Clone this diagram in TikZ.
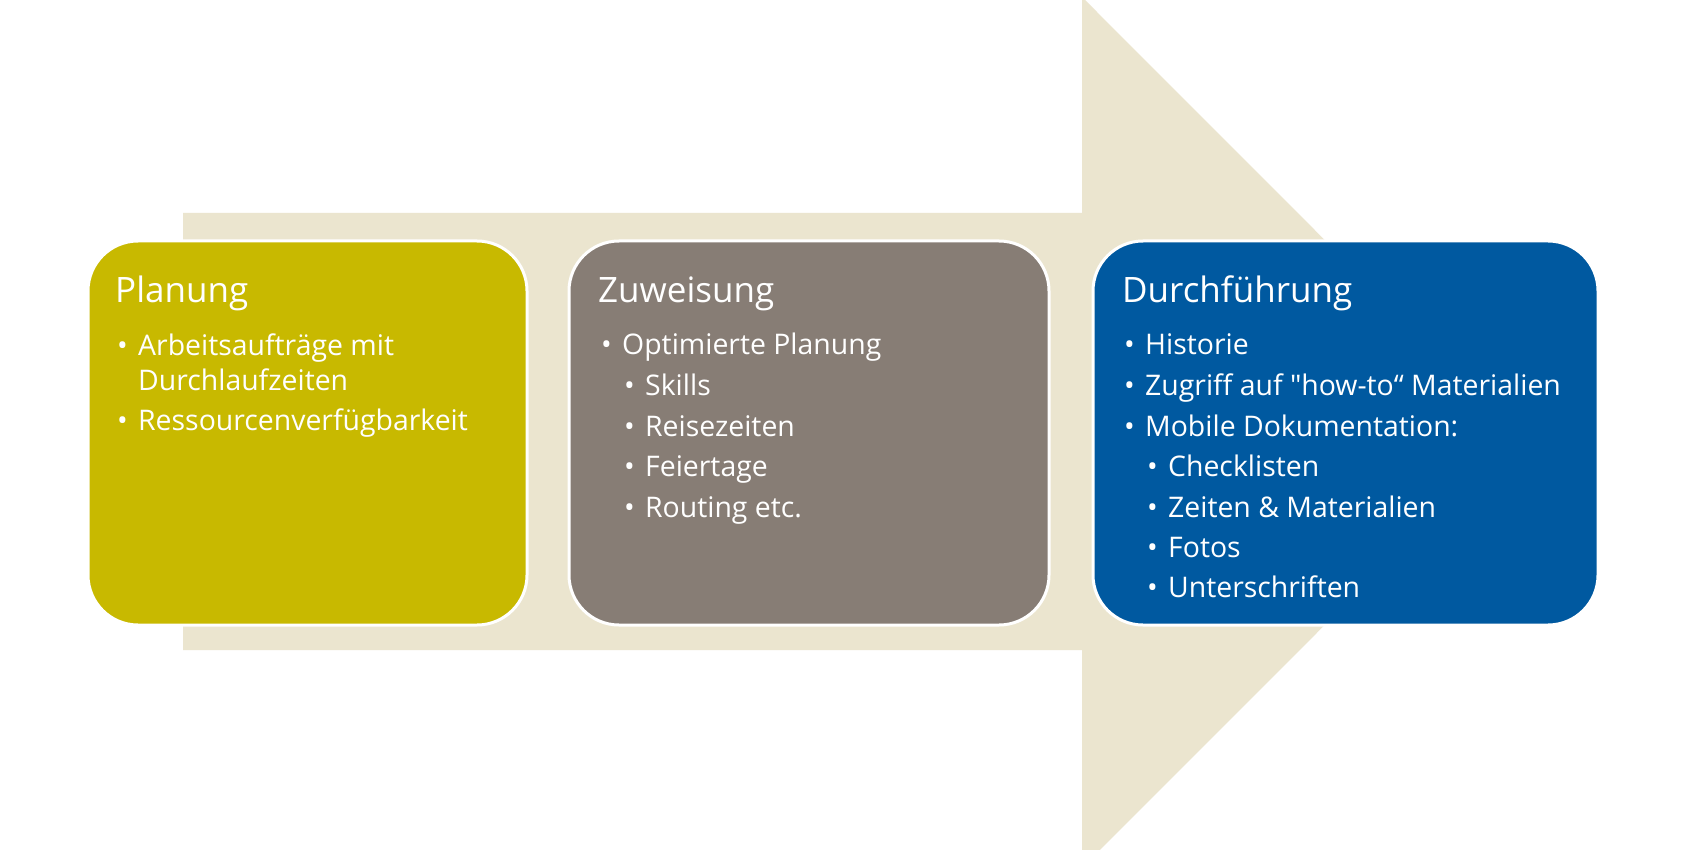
\documentclass[tikz,border=0pt]{standalone}
\usepackage{fontspec}
\setmainfont{Open Sans}
\usepackage{tikz}
\definecolor{planoliv}{RGB}{200,185,0}
\definecolor{zuwgrau}{RGB}{135,125,117}
\definecolor{durchblau}{RGB}{0,89,160}
\definecolor{pfeilbeige}{RGB}{235,229,207}
\newcommand\punkt{\makebox[21pt][l]{\textbullet}}

\begin{document}
\begin{tikzpicture}[x=1pt, y=-1pt,
		phase/.style={draw=white, line width=3pt, rounded corners=50pt, inner sep=0pt, minimum height=384pt},
		kopf/.style={anchor=base west, inner sep=0pt, text=white, font=\fontsize{35}{42}\selectfont},
		zeile/.style={anchor=base west, inner sep=0pt, text=white, font=\fontsize{28.4}{35}\selectfont}]
		%%%%% START %%%%%
		
		\useasboundingbox (0, 0) rectangle (1700, 850);
		\fill[white] (0, 0) rectangle (1700, 850);
		
		% grosser Pfeil
		\fill[pfeilbeige] (183, 213) -- (1082, 213) -- (1082, -3) -- (1517, 432.5) -- (1082, 868) -- (1082, 650) -- (183, 650) -- cycle;
		
		% Planung
		\node[phase, fill=planoliv, minimum width=439pt] (planung) at (307.5, 433) {};
		\node[kopf] (plankopf) at (115, 302) {Planung};
		\node[zeile] (plan1) at (117, 355) {\punkt Arbeitsaufträge mit};
		\node[zeile] (plan2) at (138, 390) {Durchlaufzeiten};
		\node[zeile] (plan3) at (117, 430) {\punkt Ressourcenverfügbarkeit};
		
		% Zuweisung
		\node[phase, fill=zuwgrau, minimum width=480pt] (zuweisung) at (809, 433) {};
		\node[kopf] (zuwkopf) at (598, 302) {Zuweisung};
		\node[zeile] (zuw1) at (601, 354) {\punkt Optimierte Planung};
		\node[zeile] (zuw2) at (624, 395) {\punkt Skills};
		\node[zeile] (zuw3) at (624, 436) {\punkt Reisezeiten};
		\node[zeile] (zuw4) at (624, 476) {\punkt Feiertage};
		\node[zeile] (zuw5) at (624, 517) {\punkt Routing etc.};
		
		% Durchfuehrung
		\node[phase, fill=durchblau, minimum width=505pt] (durchf) at (1345.5, 433) {};
		\node[kopf] (durchkopf) at (1122, 302) {Durchführung};
		\node[zeile] (durch1) at (1124, 354) {\punkt Historie};
		\node[zeile] (durch2) at (1124, 395) {\punkt Zugriff auf \textquotedbl how-to“ Materialien};
		\node[zeile] (durch3) at (1124, 436) {\punkt Mobile Dokumentation:};
		\node[zeile] (durch4) at (1147, 476) {\punkt Checklisten};
		\node[zeile] (durch5) at (1147, 517) {\punkt Zeiten \& Materialien};
		\node[zeile] (durch6) at (1147, 557) {\punkt Fotos};
		\node[zeile] (durch7) at (1147, 597) {\punkt Unterschriften};
		
		%%%%% END %%%%%
	\end{tikzpicture}
\end{document}
